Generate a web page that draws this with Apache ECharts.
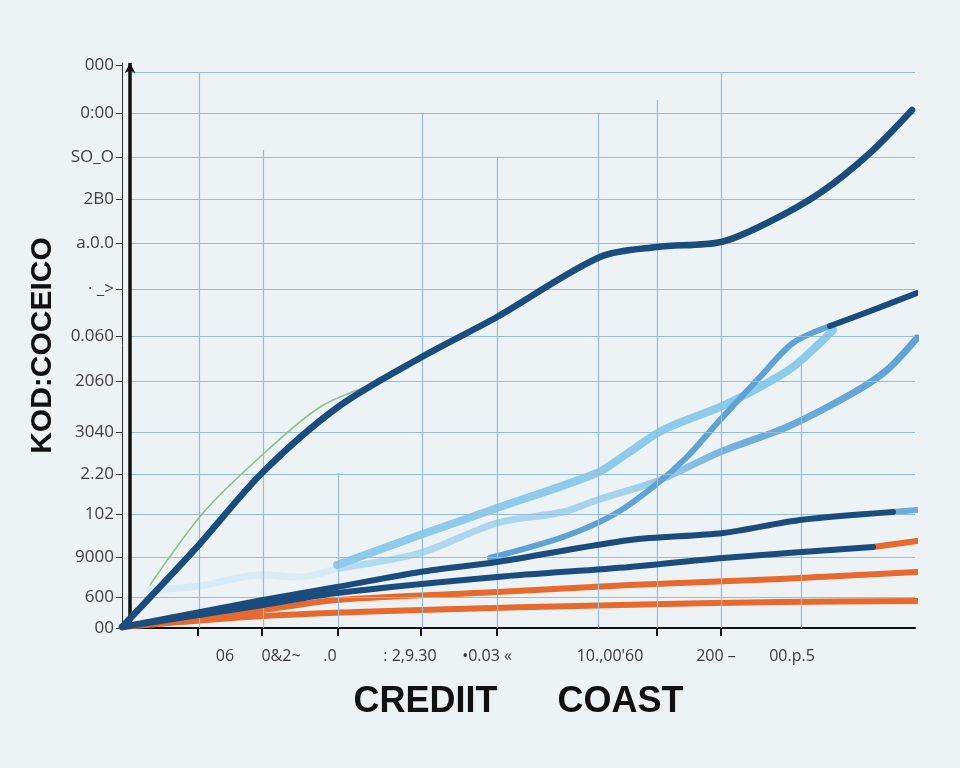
<!DOCTYPE html>
<html>
<head>
<meta charset="utf-8">
<title>Credit Coast</title>
<script src="https://cdn.jsdelivr.net/npm/echarts@6/dist/echarts.min.js"></script>
<style>
  html, body { margin: 0; padding: 0; background: #edf2f4; }
  #chart { width: 960px; height: 768px; }
</style>
</head>
<body>
<div id="chart"></div>
<script>
// axis ticks and labels (x / y in chart units)
const xTickPos = [76, 140, 216, 299, 375, 535, 599];
const xLabelPos = [103, 159, 208, 288, 365, 488, 594, 670];
const xLabels = ['06', '0&2~', '.0', ': 2,9.30', '•0.03 «', '10.,00\'60', '200 –', '00.p.5'];
const yLabelPos = [0, 31, 71, 114, 154, 196, 247, 292, 339, 385, 429, 471, 515, 563];
const yLabels = ['00', '600', '9000', '102', '2.20', '3040', '2060', '0.060', '· _>', 'a.0.0', '2B0', 'SO_O', '0:00', '000'];

// grid lines
const hGrid = [31, 71, 114, 154, 196, 247, 292, 339, 385, 429, 471, 515, 556];
const vGrid = [[77, 556], [141, 478], [216, 155], [300, 515], [375, 471], [476, 515], [535, 528], [599, 556], [679, 270]];

// series values [x, y]
const lineA = [[0, 1], [75, 81], [140, 155], [216, 221], [298, 270], [375, 311], [478, 371], [535, 381], [599, 386], [645, 405], [698, 435], [748, 475], [790, 518]];
const lineG = [[28, 43], [81, 115], [138, 171], [198, 221], [255, 245]];
const lineB = [[708, 302], [751, 318], [795, 335]];
const lineL1 = [[215, 63], [298, 93], [375, 120], [475, 155], [503, 173], [541, 198], [598, 221], [638, 241], [671, 261], [698, 285], [711, 298]];
const lineM1 = [[368, 70], [441, 91], [491, 113], [531, 141], [565, 171], [598, 208], [638, 251], [671, 285], [708, 302]];
const lineL2 = [[218, 60], [298, 75], [375, 105], [441, 116], [475, 128], [538, 148], [598, 176], [665, 201], [731, 235], [765, 258], [795, 290]];
const lineC = [[0, 1], [141, 28], [215, 41], [298, 56], [375, 66], [508, 88], [601, 95], [678, 108], [771, 116]];
const lineCTail = [[771, 116], [795, 118]];
const lineD = [[0, 1], [141, 23], [215, 35], [375, 51], [508, 61], [601, 70], [751, 81]];
const lineDTail = [[751, 81], [795, 87]];
const lineE = [[0, 1], [141, 18], [215, 28], [375, 36], [508, 43], [658, 49], [795, 56]];
const lineF = [[0, 1], [141, 12], [298, 18], [498, 23], [658, 26], [795, 27]];
const lineGhost = [[28, 38], [78, 42], [138, 53], [178, 51], [215, 60]];

const navy = '#1a4c7e';
const orange = '#e8692e';
const sky = '#8ccbea';
const midBlue = '#5ea3d4';

const myChart = echarts.init(document.getElementById('chart'));

function mkLine(data, color, width, z) {
    return {
        type: 'line',
        data: data,
        smooth: 0.3,
        showSymbol: false,
        silent: true,
        z: z,
        lineStyle: { color: color, width: width, cap: 'round', join: 'round' }
    };
}

const gridLines = [];
hGrid.forEach(v => {
    gridLines.push([{ coord: [8, v] }, { coord: [793, v] }]);
});
vGrid.forEach(g => {
    gridLines.push([{ coord: [g[0], g[1]] }, { coord: [g[0], 0] }]);
});

const option = {
    backgroundColor: '#edf2f4',
    animation: false,
    grid: { left: 122, right: 45, top: 63, bottom: 140 },
    xAxis: {
        type: 'value',
        min: 0,
        max: 793,
        name: 'CREDIIT      COAST',
        nameLocation: 'middle',
        nameGap: 56,
        nameTextStyle: { fontSize: 36, fontWeight: 'bold', color: '#111', fontFamily: 'Liberation Sans, Arial, sans-serif' },
        axisLine: { lineStyle: { color: '#111', width: 2 } },
        axisTick: { customValues: xTickPos, length: 8, lineStyle: { color: '#111', width: 2 } },
        axisLabel: {
            customValues: xLabelPos,
            margin: 20,
            fontSize: 16,
            color: '#3a3a3a',
            fontFamily: 'Open Sans, DejaVu Sans, sans-serif',
            formatter: v => xLabels[xLabelPos.indexOf(v)] || ''
        },
        splitLine: { show: false }
    },
    yAxis: {
        type: 'value',
        min: 0,
        max: 565,
        name: 'KOD:COCEICO',
        nameLocation: 'middle',
        nameRotate: 90,
        nameGap: 64,
        nameTextStyle: { fontSize: 30, fontWeight: 'bold', color: '#111', fontFamily: 'Liberation Sans, Arial, sans-serif' },
        axisLine: { show: true, lineStyle: { color: '#333', width: 1 } },
        axisTick: { customValues: yLabelPos, length: 6, lineStyle: { color: '#333', width: 1 } },
        axisLabel: {
            customValues: yLabelPos,
            margin: 8,
            fontSize: 17,
            color: '#404040',
            fontFamily: 'Open Sans, DejaVu Sans, sans-serif',
            formatter: v => yLabels[yLabelPos.indexOf(v)] || ''
        },
        splitLine: { show: false }
    },
    series: [
        {
            type: 'line',
            data: [],
            silent: true,
            clip: false,
            z: 1,
            markLine: {
                silent: true,
                symbol: 'none',
                animation: false,
                label: { show: false },
                lineStyle: { color: '#94bcdc', width: 1.2, type: 'solid' },
                data: gridLines
            }
        },
        {
            type: 'line',
            data: [],
            silent: true,
            clip: false,
            z: 5,
            markLine: {
                silent: true,
                symbol: ['none', 'arrow'],
                symbolSize: [8, 10],
                animation: false,
                label: { show: false },
                lineStyle: { color: '#111', width: 3.5, type: 'solid' },
                data: [[{ coord: [8, 0] }, { coord: [8, 565] }]]
            }
        },
        mkLine(lineGhost, '#d6ebf5', 7, 2),
        mkLine(lineF, orange, 6, 3),
        mkLine(lineE, orange, 6, 3),
        mkLine(lineL2, new echarts.graphic.LinearGradient(0, 0, 1, 0, [
            { offset: 0, color: '#b3dcf0' },
            { offset: 0.5, color: '#a4d2ec' },
            { offset: 0.7, color: '#6eaedb' },
            { offset: 1, color: '#5ea3d4' }
        ]), 7, 3),
        mkLine(lineL1, sky, 8, 4),
        mkLine(lineM1, midBlue, 6, 4),
        mkLine(lineDTail, orange, 6, 4),
        mkLine(lineCTail, '#6aaedc', 6, 4),
        mkLine(lineD, navy, 6, 5),
        mkLine(lineC, navy, 6, 5),
        mkLine(lineB, navy, 6, 5),
        mkLine(lineG, '#8dc08a', 1.6, 5),
        mkLine(lineA, navy, 6.5, 6)
    ]
};
myChart.setOption(option);
window.addEventListener('resize', () => {
    myChart.resize();
});
</script>
</body>
</html>
